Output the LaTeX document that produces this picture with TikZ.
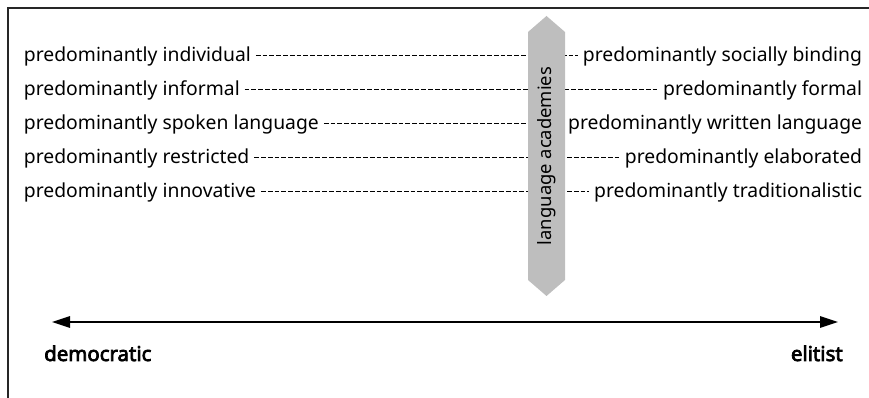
\documentclass[tikz,border=0pt]{standalone}
\usepackage{fontspec}
\setmainfont{Noto Sans}[AutoFakeBold=3.5]
\usepackage{tikz}
\usetikzlibrary{
    arrows.meta,
    positioning,
    calc
}

\begin{document}
\begin{tikzpicture}[x=0.75pt, y=-0.75pt,
    pole/.style={font=\fontsize{14.5pt}{17pt}\selectfont, inner xsep=3.5pt, inner ysep=0pt},
    ends/.style={font=\fontsize{15.3pt}{18pt}\selectfont\bfseries, inner sep=0pt},
    hyph/.style={line width=0.8pt, dash pattern=on 3.6pt off 1.5pt},
    scale=1.0]

\useasboundingbox (0,0) rectangle (869,398);

% Frame
\draw[black!85, line width=1pt] (8,398) -- (8,8) -- (869,8);

% Left and right poles
\foreach \i/\l/\r in {1/individual/socially binding,
                      2/informal/formal,
                      3/spoken language/written language,
                      4/restricted/elaborated,
                      5/innovative/traditionalistic} {
    \node[pole, anchor=base west] (l\i) at (19,{62+34*(\i-1)}) {predominantly \l};
    \node[pole, anchor=base east] (r\i) at (867,{62+34*(\i-1)}) {predominantly \r};
    \draw[hyph] ([yshift=5pt]l\i.base east) -- ([yshift=5pt]r\i.base west);
}

% Language academies (gray band)
\definecolor{bandColor}{RGB}{190,190,190}
\fill[bandColor] (528,32) -- (546.5,16) -- (565,32) -- (565,280) -- (546.5,296) -- (528,280) -- cycle;
\node[pole, rotate=90, font=\fontsize{13.8pt}{16pt}\selectfont] (acad) at (546.5,156) {language academies};

% Democratic -- elitist axis
\coordinate (demEnd) at (52,322);
\coordinate (eliEnd) at (838,322);
\draw[{Triangle[length=13.5pt, width=8.5pt]}-{Triangle[length=13.5pt, width=8.5pt]}, line width=1.6pt]
    (demEnd) -- (eliEnd);
\node[ends, anchor=base west] (dem) at (44,361) {democratic};
\node[ends, anchor=base east] (eli) at (843,361) {elitist};

\end{tikzpicture}
\end{document}
